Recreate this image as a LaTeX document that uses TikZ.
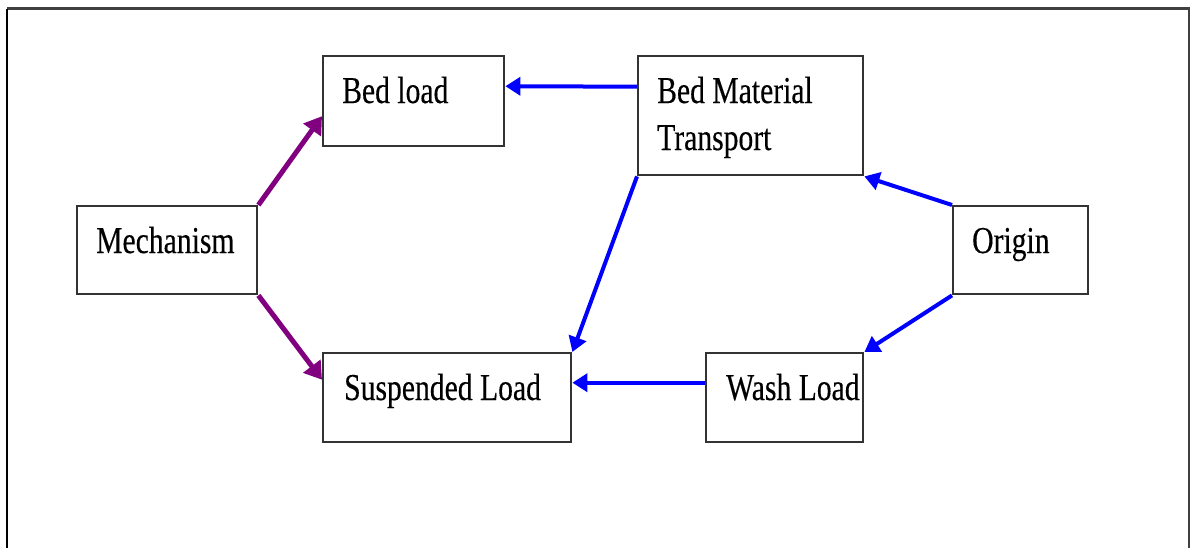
\documentclass[tikz,border=0pt]{standalone}
\usepackage{fontspec}
\setmainfont{Liberation Serif}
\newfontfamily\boxfont[FakeStretch=0.78,FakeBold=0.3]{Liberation Serif}
\usetikzlibrary{arrows.meta}
\definecolor{mechpurple}{RGB}{128,0,128}
\definecolor{flowblue}{RGB}{0,0,255}
\tikzset{
  box/.style={draw=black!80, line width=2.4pt, fill=white, inner sep=0pt, anchor=north west},
  label/.style={font=\boxfont\fontsize{38}{47}\selectfont, inner sep=0pt, anchor=base west},
  mecharrow/.style={draw=mechpurple, line width=5pt, -{Triangle[length=17pt,width=21pt]}},
  flowarrow/.style={draw=flowblue, line width=4pt, -{Triangle[length=15pt,width=18pt]}},
}
\begin{document}
\begin{tikzpicture}[x=1pt,y=-1pt]
\useasboundingbox (0,0) rectangle (1191,547);
% outer frame, open at the bottom
\draw[black!75, line width=2.5pt] (1189,560) -- (1189,8.5) -- (7,8.5);
\draw[black, line width=2.8pt] (7,8.5) -- (7,560);

% boxes
\node[box, minimum width=181pt, minimum height=90pt] (bed) at (322,55) {};
\node[box, minimum width=225pt, minimum height=119pt] (bmt) at (637,55) {};
\node[box, minimum width=180pt, minimum height=88pt] (mech) at (76,205) {};
\node[box, minimum width=135pt, minimum height=88pt] (orig) at (952,205) {};
\node[box, minimum width=248pt, minimum height=89pt] (susp) at (322,352) {};
\node[box, minimum width=157pt, minimum height=89pt] (wash) at (705,352) {};

% texts
\node[label] (bedtxt) at (342,103) {Bed load};
\node[label] (bmttxt1) at (657,103) {Bed Material};
\node[label] (bmttxt2) at (657,150) {Transport};
\node[label] (mechtxt) at (96,253) {Mechanism};
\node[label] (origtxt) at (972,253) {Origin};
\node[label] (susptxt) at (344,400) {Suspended Load};
\node[label] (washtxt) at (726,400) {Wash Load};

% connectors
\draw[mecharrow] (mech.north east) -- ([yshift=-15pt]bed.west);
\draw[mecharrow] (mech.south east) -- ([yshift=18pt]susp.west);
\draw[flowarrow] ([yshift=29pt]bmt.west) -- ([yshift=15pt]bed.east);
\draw[flowarrow] (bmt.south west) -- (susp.north east);
\draw[flowarrow] (orig.north west) -- (bmt.south east);
\draw[flowarrow] (orig.south west) -- (wash.north east);
\draw[flowarrow] ([yshift=15pt]wash.west) -- ([yshift=15pt]susp.east);
\end{tikzpicture}
\end{document}
